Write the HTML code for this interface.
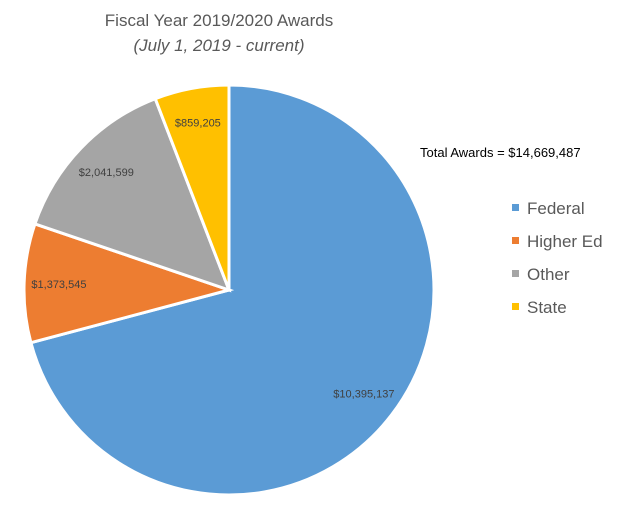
<!DOCTYPE html>
<html><head><meta charset="utf-8"><style>
body{margin:0;background:#fff;}
svg{display:block;font-family:"Liberation Sans",sans-serif;}
</style></head><body>
<svg id="c" width="641" height="513">
<text x="219" y="26" text-anchor="middle" font-size="17" fill="#595959">Fiscal Year 2019/2020 Awards</text>
<text x="219" y="51" text-anchor="middle" font-size="17" font-style="italic" fill="#595959">(July 1, 2019 - current)</text>
<text x="420" y="157" font-size="13" fill="#000">Total Awards = $14,669,487</text>
<g id="slices"></g>
<g id="labels"></g>
<g id="legend"></g>
</svg>
<script>
const categories=["Federal","Higher Ed","Other","State"];
const values=[10395137,1373545,2041599,859205];
const labels=["$10,395,137","$1,373,545","$2,041,599","$859,205"];
const colors=["#5b9bd5","#ed7d31","#a5a5a5","#ffc000"];
const ns="http://www.w3.org/2000/svg";
const cx=229,cy=290,r=205;
const total=values.reduce((a,b)=>a+b,0);
const sg=document.getElementById('slices'),lg=document.getElementById('labels'),leg=document.getElementById('legend');
function pt(a,rr){return [cx+rr*Math.sin(a),cy-rr*Math.cos(a)];}
let a0=0;
values.forEach((v,i)=>{
  const a1=a0+v/total*2*Math.PI;
  const p0=pt(a0,r),p1=pt(a1,r);
  const large=(a1-a0)>Math.PI?1:0;
  const p=document.createElementNS(ns,'path');
  p.setAttribute('d',`M${cx},${cy}L${p0[0]},${p0[1]}A${r},${r} 0 ${large} 1 ${p1[0]},${p1[1]}Z`);
  p.setAttribute('fill',colors[i]);p.setAttribute('stroke','#fff');p.setAttribute('stroke-width','3');
  
  
  sg.appendChild(p);
  const m=(a0+a1)/2;const lp=pt(m,r*0.83);
  const t=document.createElementNS(ns,'text');
  t.setAttribute('x',lp[0]);t.setAttribute('y',lp[1]+4);t.setAttribute('text-anchor','middle');
  t.setAttribute('font-size','11');t.setAttribute('fill','#404040');
  t.textContent=labels[i];
  
  
  lg.appendChild(t);
  const y=208+i*33;
  const s=document.createElementNS(ns,'rect');
  s.setAttribute('x',512);s.setAttribute('y',y-4);s.setAttribute('width',7);s.setAttribute('height',7);s.setAttribute('fill',colors[i]);
  
  
  leg.appendChild(s);
  const lt=document.createElementNS(ns,'text');
  lt.setAttribute('x',527);lt.setAttribute('y',y+6);lt.setAttribute('font-size','17');lt.setAttribute('fill','#595959');
  lt.textContent=categories[i];
  
  
  leg.appendChild(lt);
  a0=a1;
});
</script>
</body></html>
